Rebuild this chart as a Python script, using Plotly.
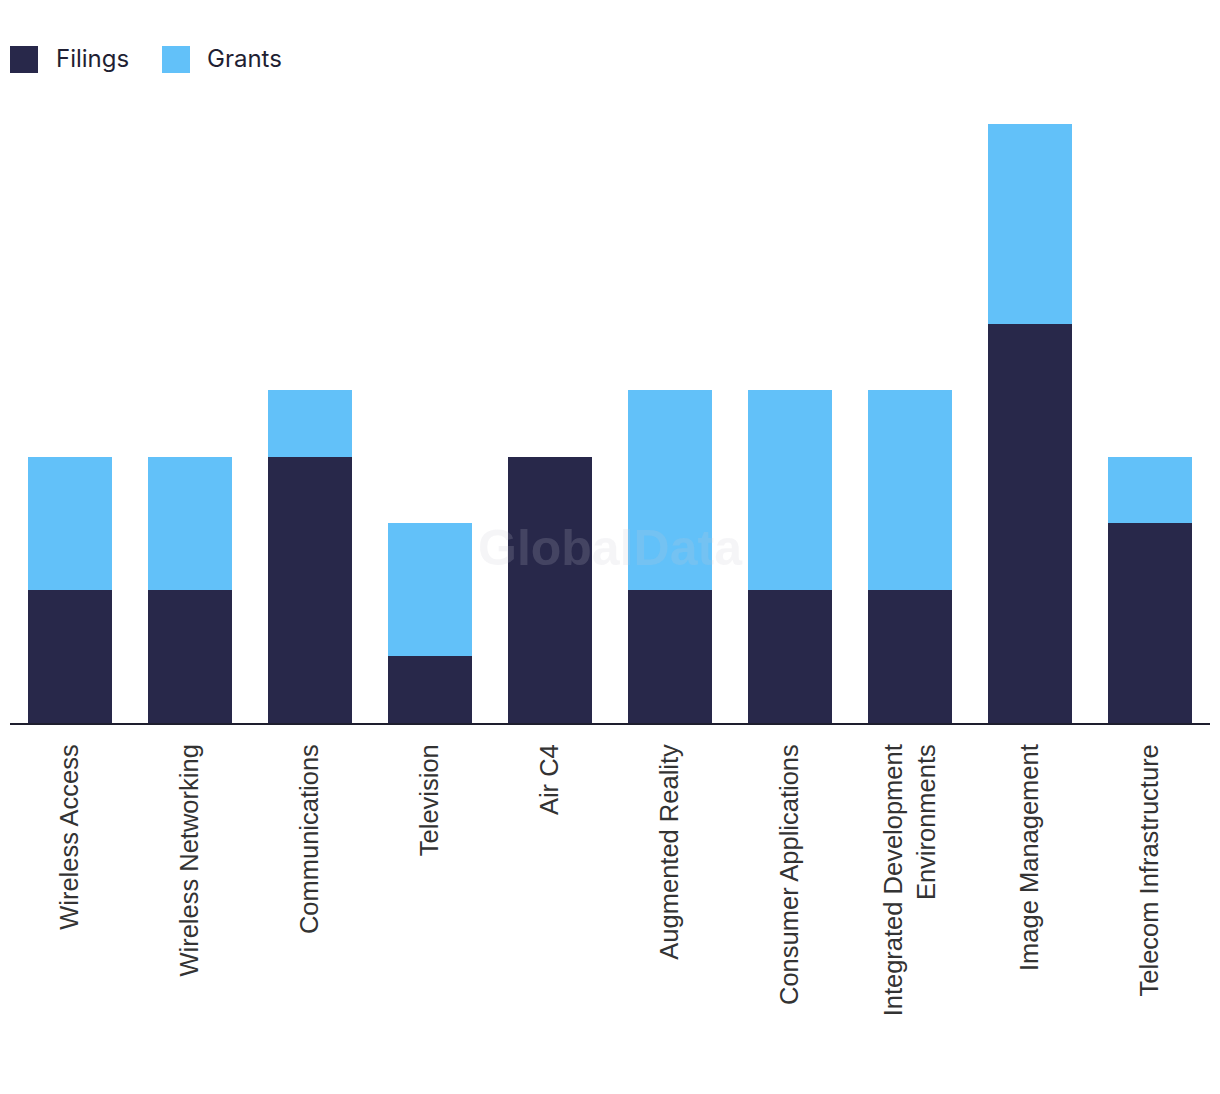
import plotly.graph_objects as go

categories = ["Wireless Access", "Wireless Networking", "Communications", "Television", "Air C4",
              "Augmented Reality", "Consumer Applications", "Integrated Development<br>Environments",
              "Image Management", "Telecom Infrastructure"]
filings = [2, 2, 4, 1, 4, 2, 2, 2, 6, 3]
grants = [2, 2, 1, 2, 0, 3, 3, 3, 3, 1]

FIL_COLOR = "#28284A"
GRA_COLOR = "#62C1F9"

W, H = 1220, 1094
L, R, T, B = 10, 10, 124, 371
pw, ph = W - L - R, H - T - B

def px(x):
    return (x - L) / pw

def py(y):
    return (H - B - y) / ph

fig = go.Figure()
fig.add_trace(go.Bar(x=categories, y=filings, name="Filings", marker_color=FIL_COLOR,
                     marker_line_width=0, showlegend=False))
fig.add_trace(go.Bar(x=categories, y=grants, name="Grants", marker_color=GRA_COLOR,
                     marker_line_width=0, showlegend=False))

shapes = []
annotations = []
legend_items = [("Filings", FIL_COLOR, 10, 54), ("Grants", GRA_COLOR, 162, 205)]
for name, col, sx, tx in legend_items:
    shapes.append(dict(type="rect", xref="paper", yref="paper",
                       x0=px(sx), x1=px(sx + 28), y0=py(73), y1=py(46),
                       fillcolor=col, line_width=0))
    annotations.append(dict(text=name, xref="paper", yref="paper", x=px(tx), y=py(58),
                            xanchor="left", yanchor="middle", showarrow=False,
                            font=dict(family="Inter", size=24, color="#1F1F33")))

annotations.append(dict(text="<b>GlobalData</b>", xref="paper", yref="paper",
                        x=px(610), y=py(548), xanchor="center", yanchor="middle",
                        showarrow=False,
                        font=dict(family="Liberation Sans", size=50, color="rgba(200,200,210,0.18)")))

fig.update_layout(
    width=W, height=H,
    margin=dict(l=L, r=R, t=T, b=B),
    barmode="stack",
    bargap=0.3,
    plot_bgcolor="white",
    paper_bgcolor="white",
    shapes=shapes,
    annotations=annotations,
    xaxis=dict(showline=True, linecolor="#1E1E2E", linewidth=2, tickangle=-90,
               ticks="outside", ticklen=9, tickcolor="rgba(0,0,0,0)",
               tickfont=dict(family="Liberation Sans", size=25.5, color="#333333"),
               showgrid=False, fixedrange=True),
    yaxis=dict(range=[0, 9], showticklabels=False, showgrid=False, zeroline=False,
               showline=False, fixedrange=True),
    showlegend=False,
)

fig.write_html("out.html")
